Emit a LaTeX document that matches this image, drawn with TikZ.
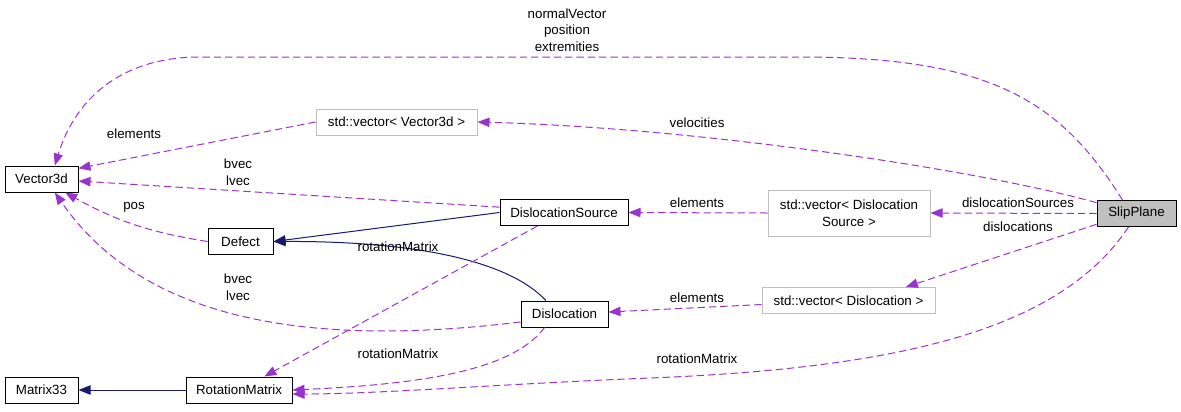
\documentclass[tikz,border=0pt]{standalone}
\usepackage{fontspec}
\setmainfont{Liberation Sans}
\usepackage{xcolor}
\usetikzlibrary{arrows.meta}
\definecolor{usepurple}{HTML}{9A32CD}
\definecolor{basenavy}{HTML}{191970}
\definecolor{grey75}{HTML}{BFBFBF}

\begin{document}
\begin{tikzpicture}[x=0.75pt,y=-0.75pt,>={Triangle[length=9pt,width=7pt]},
  cls/.style={draw=black,line width=0.75pt,fill=white,minimum height=19.5pt,inner sep=1pt,font=\fontsize{10}{12.5}\selectfont},
  tmpl/.style={cls,draw=grey75},
  lbl/.style={inner sep=0pt,align=center,font=\fontsize{10}{12.5}\selectfont},
  usage/.style={->,usepurple,dash pattern=on 5.5pt off 3pt,line width=0.75pt},
  inherit/.style={->,basenavy,line width=0.75pt}]
  \useasboundingbox (0,0) rectangle (1181,411);

  % classes
  \node[cls,minimum width=54.75pt] (vec3d) at (41.5,179) {Vector3d};
  \node[cls,minimum width=48.75pt] (defect) at (240.5,241.5) {Defect};
  \node[cls,minimum width=54.75pt] (m33) at (41.5,390) {Matrix33};
  \node[cls,minimum width=79.5pt] (rotmat) at (239,390) {RotationMatrix};
  \node[tmpl,minimum width=120.75pt] (vecv3d) at (396.5,122) {std::vector< Vector3d >};
  \node[cls,minimum width=96pt] (dsrc) at (564,212.5) {DislocationSource};
  \node[cls,minimum width=65.25pt] (disl) at (564.5,314) {Dislocation};
  \node[tmpl,minimum width=121.5pt,minimum height=34.5pt,align=center] (vecdsrc) at (849,213) {std::vector< Dislocation\\Source >};
  \node[tmpl,minimum width=129.75pt] (vecdisl) at (848.5,300.5) {std::vector< Dislocation >};
  \node[cls,fill=grey75,minimum width=59.25pt] (slip) at (1136.5,213.5) {SlipPlane};

  % inheritance
  \draw[inherit] (dsrc.west) -- (defect.east);
  \draw[inherit] ([xshift=-14pt]disl.north) .. controls (510,262) and (420,241) .. (defect.east);
  \draw[inherit] (rotmat.west) -- (m33.east);

  % usage
  \draw[usage] ([xshift=-10.5pt]slip.north) .. controls (1060,100) and (990,57) .. (800,57)
    -- (200,57) .. controls (120,57) and (75,100) .. ([xshift=10pt]vec3d.north);
  \draw[usage] ([yshift=-2pt]slip.north west) .. controls (980,170) and (700,128) .. (vecv3d.east);
  \draw[usage] (vecv3d.west) -- ([yshift=8pt]vec3d.east);
  \draw[usage] ([yshift=4pt]dsrc.west) -- ([yshift=-1.5pt]vec3d.east);
  \draw[usage] (defect.west) to[bend left=10] ([xshift=-10pt]vec3d.south east);
  \draw[usage] ([yshift=-6pt]disl.west) .. controls (330,345) and (150,330) .. ([xshift=10pt]vec3d.south);
  \draw[usage] ([xshift=-20pt]dsrc.south) -- ([xshift=19pt]rotmat.north);
  \draw[usage] ([xshift=-15pt]disl.south) .. controls (510,375) and (400,385) .. (rotmat.east);
  \draw[usage] ([xshift=-6pt]slip.south) .. controls (1060,330) and (900,368) .. (650,378)
    .. controls (500,384) and (380,394) .. ([yshift=-3pt]rotmat.east);
  \draw[usage] (vecdsrc.west) -- (dsrc.east);
  \draw[usage] ([yshift=-3pt]vecdisl.west) -- ([yshift=1.5pt]disl.east);
  \draw[usage] (slip.west) -- (vecdsrc.east);
  \draw[usage] ([yshift=2pt]slip.south west) -- ([xshift=43pt]vecdisl.north);

  % labels
  \node[lbl] (lnorm) at (567,30) {normalVector\\position\\extremities};
  \node[lbl] (lelemv) at (134,134) {elements};
  \node[lbl] (lvel) at (697,123) {velocities};
  \node[lbl] (lvecs) at (238,172) {bvec\\lvec};
  \node[lbl] (lpos) at (134,207) {pos};
  \node[lbl] (lrotds) at (398,247) {rotationMatrix};
  \node[lbl] (lelemds) at (697,203) {elements};
  \node[lbl] (lsources) at (1018,203) {dislocationSources};
  \node[lbl] (ldisls) at (1018,227) {dislocations};
  \node[lbl] (lelemd) at (697,298) {elements};
  \node[lbl] (lvecd) at (238,287) {bvec\\lvec};
  \node[lbl] (lrotd) at (398,354) {rotationMatrix};
  \node[lbl] (lrotsp) at (697,359) {rotationMatrix};
\end{tikzpicture}
\end{document}
